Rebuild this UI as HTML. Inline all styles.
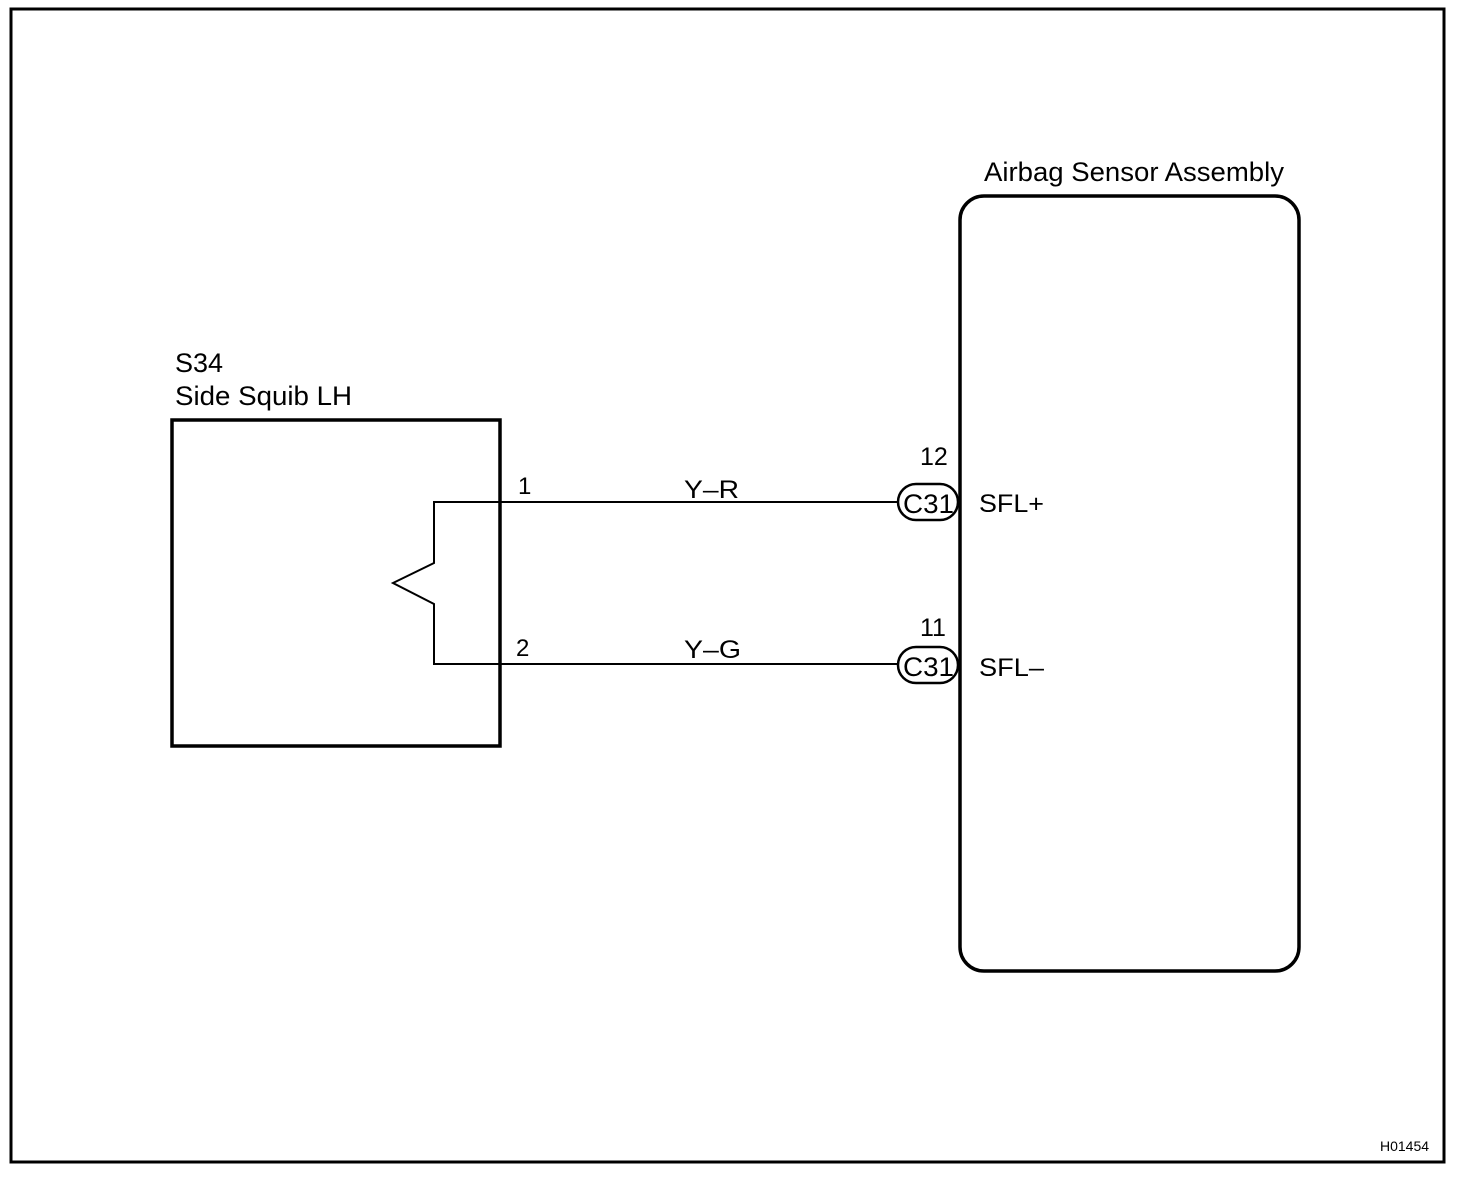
<!DOCTYPE html>
<html><head><style>body{margin:0;background:#fff}</style></head><body>
<svg width="1472" height="1174" xmlns="http://www.w3.org/2000/svg" font-family="Liberation Sans, Arial, sans-serif">
<rect x="0" y="0" width="1472" height="1174" fill="#fff"/>
<rect x="11" y="9" width="1433" height="1153" fill="none" stroke="#000" stroke-width="3"/>
<text x="984" y="181" font-size="27" textLength="300" lengthAdjust="spacingAndGlyphs">Airbag Sensor Assembly</text>
<rect x="960" y="196" width="339" height="775" rx="24" fill="none" stroke="#000" stroke-width="3.5"/>
<text x="175" y="372" font-size="27">S34</text>
<text x="175" y="405" font-size="27" textLength="177" lengthAdjust="spacingAndGlyphs">Side Squib LH</text>
<rect x="172" y="420" width="328" height="326" fill="none" stroke="#000" stroke-width="3.5"/>
<polyline points="900,502 434,502 434,563 393,583 434,604 434,664 900,664" fill="none" stroke="#000" stroke-width="2"/>
<text x="518" y="494" font-size="24">1</text>
<text x="516" y="656" font-size="24">2</text>
<text x="684" y="498" font-size="25" textLength="55" lengthAdjust="spacingAndGlyphs">Y–R</text>
<text x="684" y="658" font-size="25" textLength="57" lengthAdjust="spacingAndGlyphs">Y–G</text>
<rect x="898" y="484" width="60" height="36" rx="18" fill="#fff" stroke="#000" stroke-width="2.5"/>
<rect x="898" y="647" width="60" height="36" rx="18" fill="#fff" stroke="#000" stroke-width="2.5"/>
<text x="903" y="513" font-size="27" textLength="51" lengthAdjust="spacingAndGlyphs">C31</text>
<text x="903" y="676" font-size="27" textLength="51" lengthAdjust="spacingAndGlyphs">C31</text>
<text x="920" y="465" font-size="25">12</text>
<text x="920" y="636" font-size="25">11</text>
<text x="979" y="512" font-size="25" textLength="65" lengthAdjust="spacingAndGlyphs">SFL+</text>
<text x="979" y="676" font-size="25" textLength="65" lengthAdjust="spacingAndGlyphs">SFL–</text>
<text x="1380" y="1151" font-size="14">H01454</text>
</svg>
</body></html>
